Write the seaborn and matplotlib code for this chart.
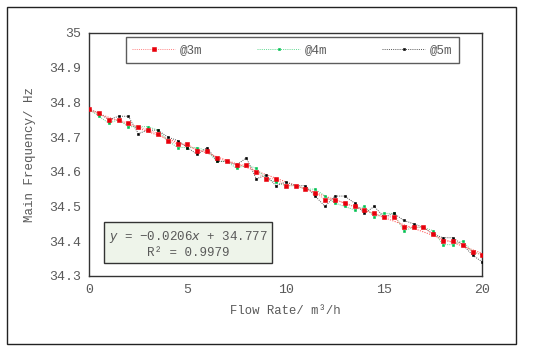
import numpy as np
import pandas as pd
import matplotlib
matplotlib.use("Agg")
import matplotlib.pyplot as plt
import seaborn as sns
from matplotlib.patches import Rectangle

flow = [i * 0.5 for i in range(41)]
f3m = [34.78, 34.77, 34.75, 34.75, 34.74, 34.73, 34.72, 34.71, 34.69, 34.68, 34.68,
       34.66, 34.66, 34.64, 34.63, 34.62, 34.62, 34.60, 34.58, 34.58, 34.56,
       34.56, 34.55, 34.54, 34.52, 34.52, 34.51, 34.50, 34.49, 34.48, 34.47,
       34.47, 34.44, 34.44, 34.44, 34.42, 34.40, 34.40, 34.39, 34.37, 34.36]
f4m = [34.78, 34.76, 34.74, 34.75, 34.73, 34.73, 34.73, 34.72, 34.69, 34.67, 34.67,
       34.67, 34.66, 34.63, 34.63, 34.61, 34.62, 34.61, 34.58, 34.57, 34.56,
       34.56, 34.55, 34.55, 34.53, 34.51, 34.50, 34.49, 34.50, 34.47, 34.48,
       34.48, 34.43, 34.44, 34.44, 34.43, 34.39, 34.39, 34.40, 34.37, 34.36]
f5m = [34.78, 34.77, 34.75, 34.76, 34.76, 34.71, 34.72, 34.72, 34.70, 34.69, 34.67,
       34.65, 34.67, 34.63, 34.63, 34.62, 34.64, 34.58, 34.59, 34.56, 34.57,
       34.56, 34.56, 34.53, 34.50, 34.53, 34.53, 34.51, 34.48, 34.50, 34.47,
       34.48, 34.46, 34.45, 34.44, 34.42, 34.41, 34.41, 34.39, 34.36, 34.34]
series = ["@3m", "@4m", "@5m"]
colors = ["#e8000b", "#00c050", "#000000"]
xticks = [0, 5, 10, 15, 20]
yticks = [34.3, 34.4, 34.5, 34.6, 34.7, 34.8, 34.9, 35.0]
yticklabels = ["34.3", "34.4", "34.5", "34.6", "34.7", "34.8", "34.9", "35"]

sns.set_style("white")
plt.rcParams['font.family'] = ['Liberation Mono', 'DejaVu Sans']
txtc = "#595959"

fig = plt.figure(figsize=(5.5, 3.51), dpi=100)
ax = fig.add_axes([0.162, 0.214, 0.715, 0.692])

# outer frame
fig.patches.append(Rectangle((7 / 550, 1 - 344 / 351), 509 / 550, 337 / 351,
                             transform=fig.transFigure, fill=False,
                             edgecolor="#222222", lw=1.0, zorder=0))

# trendline of the 3 m series
sns.regplot(x=flow, y=f3m, ax=ax, scatter=False, ci=None, truncate=True,
            line_kws=dict(color="#ff6060", lw=0.8, ls=(0, (1, 1.2))))

msizes = [2.8, 1.8, 1.8]
zords = [4, 2, 3]
linec = ["#ff8080", "#60d890", "#555555"]
for name, vals, c, lc, ms, z in zip(series, [f3m, f4m, f5m], colors, linec, msizes, zords):
    sns.lineplot(x=flow, y=vals, ax=ax, color=lc, lw=0.7, ls=(0, (1, 1.2)),
                 marker="s", markersize=ms, markerfacecolor=c, markeredgecolor=c,
                 markeredgewidth=0.4, label=name, zorder=z)

ax.set_xlim(0, 20)
ax.set_ylim(34.3, 35.0)
ax.set_xticks(xticks)
ax.set_xticklabels([str(t) for t in xticks])
ax.set_yticks(yticks)
ax.set_yticklabels(yticklabels)
ax.tick_params(direction="in", length=4, width=0.8, colors="#222222",
               labelcolor=txtc, labelsize=9.5, pad=6)
for s in ax.spines.values():
    s.set_color("#333333")
    s.set_linewidth(1.0)
ax.set_xlabel("Flow Rate/ m³/h", color=txtc, fontsize=8.8, labelpad=6)
ax.set_ylabel("Main Frequency/ Hz", color=txtc, fontsize=9, labelpad=9)

leg = ax.legend(loc="upper center", bbox_to_anchor=(0.517, 0.983), ncol=3,
                frameon=True, fancybox=False, edgecolor="#333333",
                fontsize=9, handlelength=3.4, columnspacing=4.4,
                borderpad=0.55, handletextpad=0.4, borderaxespad=0)
leg.get_frame().set_linewidth(1.0)
for t in leg.get_texts():
    t.set_color(txtc)

ax.text(0.252, 0.132, "$y$ = −0.0206$x$ + 34.777\nR² = 0.9979",
        transform=ax.transAxes, ha="center", va="center", fontsize=9,
        color=txtc, linespacing=1.25,
        bbox=dict(boxstyle="square,pad=0.35", fc="#eef4ea", ec="#333333", lw=1.0))

fig.savefig("out.png", dpi=100)
